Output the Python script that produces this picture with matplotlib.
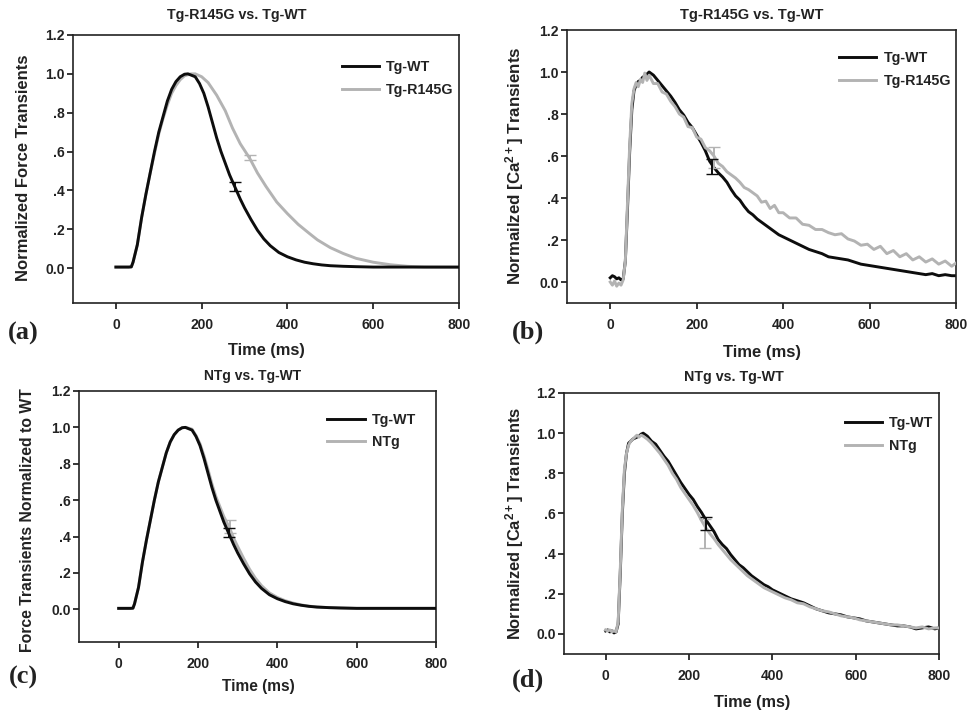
import numpy as np
import matplotlib
matplotlib.use("Agg")
import matplotlib.pyplot as plt

plt.rcParams['font.family'] = ['Liberation Sans', 'DejaVu Sans']
plt.rcParams['mathtext.fontset'] = 'custom'
plt.rcParams['mathtext.rm'] = 'Liberation Sans:bold'
plt.rcParams['mathtext.bf'] = 'Liberation Sans:bold'
plt.rcParams['mathtext.default'] = 'bf'

# ---- force transients (a, c) ----
force_wt_t = [0, 10, 20, 30, 36, 40, 50, 60, 70, 80, 90, 100, 110, 120, 130, 140, 150, 160, 168,
              185, 195, 205, 215, 225, 235, 245, 255, 265, 277, 290, 300, 315, 330, 345, 360, 380,
              400, 420, 440, 460, 480, 500, 530, 560, 600, 650, 700, 750, 800]
force_wt = [0.005, 0.005, 0.005, 0.005, 0.006, 0.03, 0.12, 0.26, 0.38, 0.49, 0.60, 0.70, 0.78, 0.86,
            0.92, 0.96, 0.985, 0.998, 1.0,
            0.985, 0.95, 0.90, 0.83, 0.75, 0.67, 0.60, 0.54, 0.48, 0.42, 0.355, 0.31, 0.25, 0.195,
            0.15, 0.115, 0.08, 0.058, 0.042, 0.03, 0.022, 0.016, 0.012, 0.009, 0.007, 0.005, 0.005,
            0.005, 0.005, 0.005]

force_r145g_t = [0, 10, 20, 30, 36, 40, 50, 60, 70, 80, 90, 100, 110, 120, 130, 140, 150, 160, 175,
                 185, 200, 215, 235, 255, 272, 290, 312, 330, 350, 375, 400, 425, 450, 470, 500, 530,
                 560, 600, 640, 680, 720, 800]
force_r145g = [0.005, 0.005, 0.005, 0.005, 0.006, 0.03, 0.12, 0.26, 0.38, 0.49, 0.59, 0.69, 0.77,
               0.84, 0.90, 0.94, 0.97, 0.99, 1.0, 1.0, 0.985, 0.955, 0.89, 0.81, 0.72, 0.64, 0.565,
               0.49, 0.42, 0.34, 0.28, 0.225, 0.18, 0.145, 0.105, 0.075, 0.05, 0.03, 0.017, 0.009,
               0.005, 0.004]

force_ntg_t = [0, 10, 20, 30, 36, 40, 50, 60, 70, 80, 90, 100, 110, 120, 130, 140, 150, 160, 170,
               185, 195, 205, 215, 225, 235, 245, 255, 265, 280, 290, 300, 315, 330, 345, 360, 380,
               400, 420, 440, 460, 480, 500, 530, 560, 600, 650, 700, 750, 800]
force_ntg = [0.005, 0.005, 0.005, 0.005, 0.006, 0.03, 0.12, 0.26, 0.38, 0.49, 0.60, 0.70, 0.78, 0.86,
             0.92, 0.96, 0.985, 0.998, 1.0,
             0.99, 0.955, 0.91, 0.845, 0.77, 0.69, 0.62, 0.565, 0.51, 0.445, 0.39, 0.345, 0.28,
             0.22, 0.17, 0.13, 0.09, 0.065, 0.047, 0.034, 0.024, 0.017, 0.013, 0.009, 0.007, 0.005,
             0.005, 0.005, 0.005, 0.005]

# ---- calcium transients (b, d) ----
ca_t = [0, 5, 10, 15, 20, 25, 30, 35, 40, 45, 50, 55, 60, 65, 70, 75, 80, 85, 90, 100, 110, 120,
        130, 140, 150, 160, 170, 180, 190, 200, 210, 220, 230, 240, 250, 260, 270, 280, 290, 300,
        310, 320, 330, 340, 350, 360, 370, 380, 390, 400, 415, 430, 445, 460, 475, 490, 505, 520,
        535, 550, 565, 580, 595, 610, 625, 640, 655, 670, 685, 700, 715, 730, 745, 760, 775, 790,
        800]
ca_wt_b = [0.02, 0.03, 0.025, 0.015, 0.02, 0.01, 0.015, 0.1, 0.35, 0.62, 0.82, 0.91, 0.94, 0.955,
           0.96, 0.975, 0.98, 0.99, 1.0, 0.985, 0.96, 0.935, 0.91, 0.885, 0.855, 0.82, 0.795, 0.76,
           0.735, 0.70, 0.665, 0.625, 0.575, 0.545, 0.52, 0.50, 0.475, 0.44, 0.41, 0.39, 0.36,
           0.335, 0.32, 0.30, 0.285, 0.27, 0.255, 0.24, 0.225, 0.215, 0.20, 0.185, 0.17, 0.155,
           0.145, 0.135, 0.12, 0.115, 0.11, 0.105, 0.095, 0.085, 0.08, 0.075, 0.07, 0.065, 0.06,
           0.055, 0.05, 0.045, 0.04, 0.035, 0.04, 0.03, 0.035, 0.03, 0.03]
ca_r145g_b = [0.0, -0.015, 0.005, -0.02, -0.005, -0.015, 0.01, 0.1, 0.38, 0.65, 0.85, 0.92, 0.95,
              0.93, 0.965, 0.95, 0.995, 0.96, 0.985, 0.945, 0.945, 0.905, 0.895, 0.86, 0.835, 0.80,
              0.785, 0.74, 0.735, 0.69, 0.68, 0.64, 0.625, 0.60, 0.565, 0.55, 0.525, 0.51, 0.495,
              0.475, 0.45, 0.44, 0.425, 0.41, 0.38, 0.385, 0.35, 0.365, 0.33, 0.33, 0.305, 0.305,
              0.275, 0.27, 0.25, 0.25, 0.235, 0.225, 0.23, 0.205, 0.195, 0.175, 0.18, 0.155, 0.17,
              0.135, 0.15, 0.12, 0.135, 0.105, 0.12, 0.095, 0.11, 0.085, 0.1, 0.075, 0.09]
ca_wt_d = [0.015, 0.02, 0.01, 0.015, 0.005, 0.01, 0.05, 0.3, 0.6, 0.8, 0.9, 0.95, 0.96, 0.97,
           0.975, 0.98, 0.985, 0.995, 1.0, 0.985, 0.96, 0.945, 0.915, 0.885, 0.86, 0.825, 0.79,
           0.755, 0.725, 0.695, 0.67, 0.635, 0.605, 0.57, 0.54, 0.51, 0.47, 0.445, 0.425, 0.395,
           0.37, 0.345, 0.33, 0.31, 0.29, 0.275, 0.26, 0.245, 0.235, 0.22, 0.205, 0.19, 0.175,
           0.165, 0.155, 0.14, 0.125, 0.115, 0.105, 0.10, 0.095, 0.085, 0.08, 0.075, 0.065, 0.06,
           0.055, 0.05, 0.045, 0.04, 0.04, 0.035, 0.025, 0.03, 0.035, 0.025, 0.03]
ca_ntg_d = [0.02, 0.015, 0.02, 0.01, 0.015, 0.01, 0.06, 0.32, 0.62, 0.82, 0.9, 0.94, 0.96, 0.97,
            0.98, 0.99, 0.98, 0.99, 0.985, 0.97, 0.95, 0.925, 0.90, 0.87, 0.84, 0.80, 0.77, 0.73,
            0.70, 0.67, 0.64, 0.605, 0.565, 0.53, 0.50, 0.475, 0.445, 0.42, 0.395, 0.37, 0.35,
            0.33, 0.31, 0.29, 0.275, 0.26, 0.245, 0.23, 0.22, 0.21, 0.195, 0.18, 0.17, 0.155,
            0.15, 0.135, 0.125, 0.115, 0.11, 0.10, 0.09, 0.085, 0.08, 0.07, 0.065, 0.06, 0.055,
            0.05, 0.045, 0.045, 0.04, 0.035, 0.03, 0.035, 0.025, 0.03, 0.03]

# error bars: (time, value, sem)
err_a = {"Tg-WT": (277, 0.42, 0.025), "Tg-R145G": (312, 0.57, 0.012)}
err_b = {"Tg-WT": (235, 0.55, 0.035), "Tg-R145G": (240, 0.595, 0.05)}
err_c = {"Tg-WT": (278, 0.42, 0.025), "NTg": (280, 0.455, 0.035)}
err_d = {"Tg-WT": (240, 0.55, 0.03), "NTg": (238, 0.50, 0.07)}

y_ticks = [0.0, 0.2, 0.4, 0.6, 0.8, 1.0, 1.2]
y_ticklabels = ["0.0", ".2", ".4", ".6", ".8", "1.0", "1.2"]
x_ticks = [0, 200, 400, 600, 800]

BLACK = "#0d0d0d"
GRAY = "#b3b3b3"
W, H = 970, 711

fig = plt.figure(figsize=(9.7, 7.11), dpi=100)


def px_axes(left, top, right, bottom):
    return fig.add_axes([left / W, 1 - bottom / H, (right - left) / W, (bottom - top) / H])


def ftext(x, y, s, **kw):
    fig.text(x / W, 1 - y / H, s, ha="center", va="center", **kw)


def style(ax, ylo):
    ax.set_xlim(-100, 800)
    ax.set_ylim(ylo, 1.2)
    ax.set_xticks(x_ticks)
    ax.set_yticks(y_ticks)
    ax.set_yticklabels(y_ticklabels)
    ax.tick_params(direction="out", length=4, width=1.1, labelsize=10)
    ax.tick_params(axis="x", pad=7)
    ax.tick_params(axis="y", pad=2)
    for lab in ax.get_xticklabels() + ax.get_yticklabels():
        lab.set_fontweight("bold")
        lab.set_color("#222222")
    for sp in ax.spines.values():
        sp.set_linewidth(1.2)
        sp.set_color("#222222")


def draw(ax, t1, y1, lab1, t2, y2, lab2, errs, legpos, gray_top=False):
    zb, zg = (2, 3) if gray_top else (3, 2)
    l1, = ax.plot(t1, y1, color=BLACK, lw=2.1, label=lab1, zorder=zb)
    l2, = ax.plot(t2, y2, color=GRAY, lw=2.1, label=lab2, zorder=zg)
    e = errs[lab1]
    ax.errorbar(e[0], e[1], yerr=e[2], fmt="none", ecolor=BLACK, elinewidth=1.4, capsize=4, zorder=4)
    e = errs[lab2]
    ax.errorbar(e[0], e[1], yerr=e[2], fmt="none", ecolor=GRAY, elinewidth=1.4, capsize=4, zorder=zg)
    leg = ax.legend(handles=[l1, l2], loc="upper right", bbox_to_anchor=legpos, frameon=False,
                    handlelength=2.6, handletextpad=0.5, labelspacing=0.6,
                    prop={"weight": "bold", "size": 10.3})
    for tx in leg.get_texts():
        tx.set_color("#222222")


# (a)
ax_a = px_axes(73, 35, 459, 303)
draw(ax_a, force_wt_t, force_wt, "Tg-WT", force_r145g_t, force_r145g, "Tg-R145G", err_a, (1.02, 0.955))
style(ax_a, -0.18)
# (b)
ax_b = px_axes(567, 30, 956, 303)
draw(ax_b, ca_t, ca_wt_b, "Tg-WT", ca_t, ca_r145g_b, "Tg-R145G", err_b, (1.02, 0.97), gray_top=True)
style(ax_b, -0.1)
# (c)
ax_c = px_axes(79, 391, 436, 642)
draw(ax_c, force_wt_t, force_wt, "Tg-WT", force_ntg_t, force_ntg, "NTg", err_c, (0.98, 0.965))
style(ax_c, -0.18)
# (d)
ax_d = px_axes(564, 393, 939, 654)
draw(ax_d, ca_t, ca_wt_d, "Tg-WT", ca_t, ca_ntg_d, "NTg", err_d, (1.02, 0.96), gray_top=True)
style(ax_d, -0.1)

tkw = dict(fontweight="bold", color="#222222")
# titles
ftext(237, 15, "Tg-R145G vs. Tg-WT", fontsize=10.3, **tkw)
ftext(752, 15, "Tg-R145G vs. Tg-WT", fontsize=10.5, **tkw)
ftext(253, 376, "NTg vs. Tg-WT", fontsize=10, **tkw)
ftext(734, 377, "NTg vs. Tg-WT", fontsize=10.3, **tkw)
# x labels
ftext(266, 350, "Time (ms)", fontsize=11.8, **tkw)
ftext(762, 352, "Time (ms)", fontsize=12, **tkw)
ftext(258, 687, "Time (ms)", fontsize=11.2, **tkw)
ftext(752, 702, "Time (ms)", fontsize=11.7, **tkw)
# y labels
ftext(24, 168, "Normalized Force Transients", fontsize=12, rotation=90, **tkw)
ftext(515, 166, r"Normailzed [Ca$^{2+}$] Transients", fontsize=12.2, rotation=90, **tkw)
ftext(28, 520, "Force Transients Normalized to WT", fontsize=11.3, rotation=90, **tkw)
ftext(515, 523, r"Normalized [Ca$^{2+}$] Transients", fontsize=11.9, rotation=90, **tkw)
# panel letters
pkw = dict(fontsize=19, fontweight="bold", family=["Liberation Serif", "DejaVu Serif"], color="#222222")
ftext(23, 333, "(a)", **pkw)
ftext(528, 332, "(b)", **pkw)
ftext(23, 677, "(c)", **pkw)
ftext(528, 680, "(d)", **pkw)

fig.savefig("out.png", dpi=100)
